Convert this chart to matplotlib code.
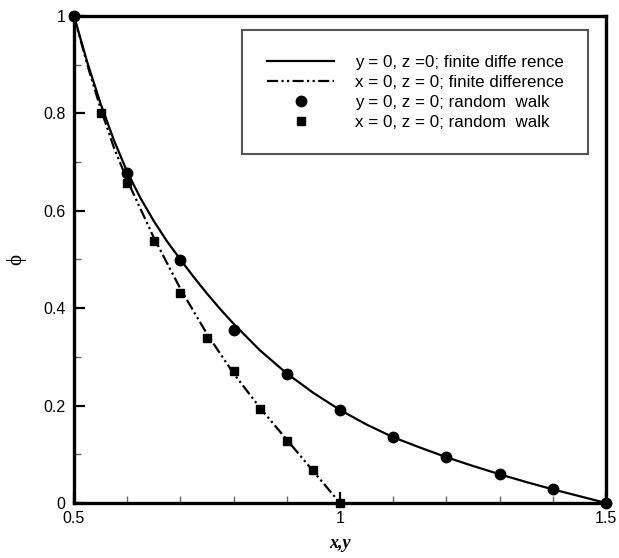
import matplotlib
matplotlib.use("Agg")
import matplotlib.pyplot as plt
from matplotlib.ticker import MultipleLocator

# finite difference curves
fd_y0_x = [0.5, 0.525, 0.55, 0.575, 0.6, 0.625, 0.65, 0.675, 0.7, 0.725, 0.75, 0.775, 0.8,
           0.85, 0.9, 0.95, 1.0, 1.05, 1.1, 1.15, 1.2, 1.25, 1.3, 1.35, 1.4, 1.45, 1.5]
fd_y0_phi = [1.0, 0.905, 0.82, 0.745, 0.68, 0.626, 0.579, 0.537, 0.5, 0.464, 0.43, 0.398, 0.368,
             0.313, 0.266, 0.226, 0.191, 0.161, 0.135, 0.114, 0.094, 0.076, 0.059, 0.043, 0.028, 0.014, 0.0]
fd_x0_x = [0.5, 0.525, 0.55, 0.575, 0.6, 0.65, 0.7, 0.75, 0.8, 0.85, 0.9, 0.95, 1.0]
fd_x0_phi = [1.0, 0.9, 0.81, 0.73, 0.663, 0.545, 0.44, 0.347, 0.266, 0.195, 0.13, 0.065, 0.0]

# random walk points
rw_y0_x = [0.5, 0.6, 0.7, 0.8, 0.9, 1.0, 1.1, 1.2, 1.3, 1.4, 1.5]
rw_y0_phi = [1.0, 0.677, 0.499, 0.355, 0.264, 0.19, 0.135, 0.095, 0.06, 0.029, 0.0]
rw_x0_x = [0.5, 0.55, 0.6, 0.65, 0.7, 0.75, 0.8, 0.85, 0.9, 0.95, 1.0]
rw_x0_phi = [1.0, 0.801, 0.656, 0.537, 0.431, 0.339, 0.27, 0.192, 0.128, 0.068, 0.0]

plt.rcParams['font.family'] = ['Liberation Sans', 'DejaVu Sans']

fig = plt.figure(figsize=(6.19, 5.58), dpi=100)
ax = fig.add_axes([0.1195, 0.0986, 0.8595, 0.8728])

ax.plot(fd_y0_x, fd_y0_phi, color='black', lw=1.6, label='y = 0, z =0; finite diffe rence')
ax.plot(fd_x0_x, fd_x0_phi, color='black', lw=1.6, linestyle=(0, (5, 1.5, 1, 1.5, 1, 1.5)),
        label='x = 0, z = 0; finite difference')
ax.plot(rw_y0_x, rw_y0_phi, 'o', color='black', ms=7.5, clip_on=False, label='y = 0, z = 0; random  walk')
ax.plot(rw_x0_x, rw_x0_phi, 's', color='black', ms=5.5, clip_on=False, label='x = 0, z = 0; random  walk')

ax.set_xlim(0.5, 1.5)
ax.set_ylim(0, 1)
ax.xaxis.set_major_locator(MultipleLocator(0.5))
ax.xaxis.set_minor_locator(MultipleLocator(0.1))
ax.yaxis.set_major_locator(MultipleLocator(0.2))
ax.yaxis.set_minor_locator(MultipleLocator(0.1))
ax.xaxis.set_major_formatter(plt.FuncFormatter(lambda v, p: f'{v:g}'))
ax.yaxis.set_major_formatter(plt.FuncFormatter(lambda v, p: f'{v:g}'))

ax.tick_params(which='major', direction='in', length=8, width=1.6, labelsize=11.5, pad=6)
ax.tick_params(which='minor', direction='in', length=5, width=1, color='#666666')
for s in ax.spines.values():
    s.set_linewidth(2.4)

ax.set_xlabel('x,y', family=['Liberation Serif', 'DejaVu Serif'], style='italic', weight='bold',
              fontsize=13, labelpad=6)
ax.set_ylabel('\u03d5', family=['Liberation Serif', 'DejaVu Serif'], fontsize=15, labelpad=12)

leg = ax.legend(loc='upper left', bbox_to_anchor=(0.316, 0.971), borderaxespad=0,
                fontsize=12.2, handlelength=4.0, handletextpad=1.2, borderpad=1.45,
                labelspacing=0.3, fancybox=False, framealpha=1)
leg.get_frame().set_edgecolor('#555555')
leg.get_frame().set_linewidth(1.5)

fig.savefig('out.png', dpi=100)
